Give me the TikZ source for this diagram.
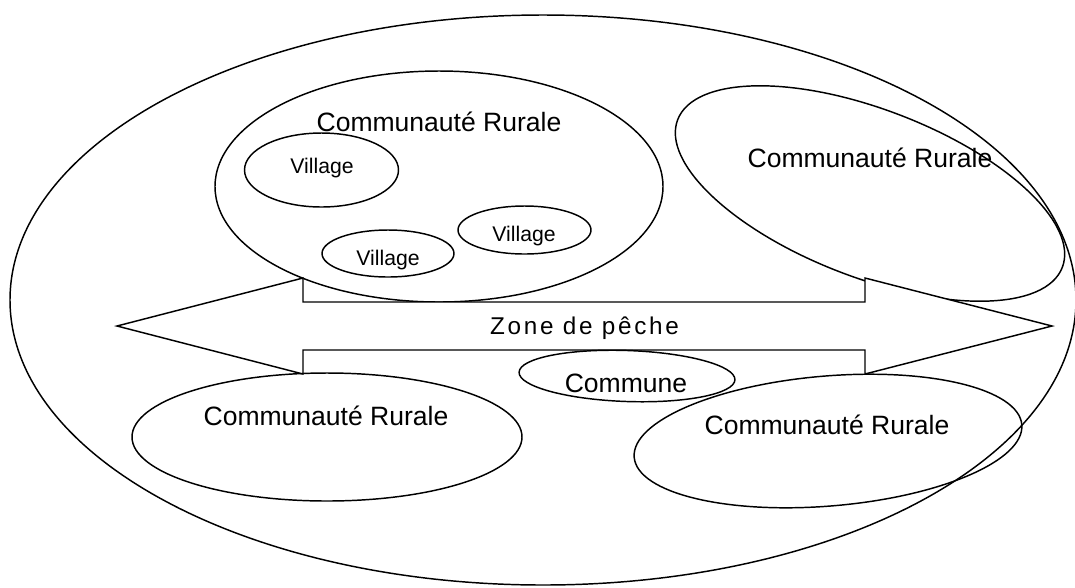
\documentclass[tikz,border=0pt]{standalone}
\usepackage{fontspec}
\setmainfont{Liberation Sans}
\usetikzlibrary{shapes}
\newlength\pxu
\setlength\pxu{0.75pt}

\tikzset{
	zone/.style={draw, ellipse, line width=1.1pt, inner sep=0pt},
	crtext/.style={anchor=base, inner sep=0pt, font=\fontsize{19.9}{22}\selectfont},
	vtext/.style={anchor=base, inner sep=0pt, font=\fontsize{15.9}{18}\selectfont},
}

\begin{document}
\begin{tikzpicture}[x=\pxu,y=-\pxu]
	\useasboundingbox (0,0) rectangle (1075,587);

	% Region
	\node[zone, minimum width=1066\pxu, minimum height=570\pxu] (region) at (543,300) {};

	% Communautes Rurales
	\node[zone, minimum width=448\pxu, minimum height=231\pxu] (crA) at (439,186.5) {};
	\node[crtext] (crAtext) at (439,131) {Communauté Rurale};
	\node[zone, minimum width=412\pxu, minimum height=168\pxu, rotate=-21] (crB) at (870,193.5) {};
	\node[crtext] (crBtext) at (870,167) {Communauté Rurale};
	\node[zone, minimum width=390\pxu, minimum height=128\pxu] (crC) at (327,437) {};
	\node[crtext] (crCtext) at (326,425) {Communauté Rurale};
	\node[zone, minimum width=389\pxu, minimum height=130\pxu, rotate=4.8] (crD) at (828,441) {};
	\node[crtext] (crDtext) at (827,434.5) {Communauté Rurale};

	% Villages
	\node[zone, minimum width=154\pxu, minimum height=74\pxu] (villA) at (321.5,170) {};
	\node[vtext] at (322,173) {Village};
	\node[zone, minimum width=132\pxu, minimum height=47\pxu] (villB) at (388,253.5) {};
	\node[vtext] at (388,265) {Village};
	\node[zone, minimum width=133\pxu, minimum height=48\pxu] (villC) at (524.5,230) {};
	\node[vtext] at (524,241.5) {Village};

	% Zone de peche
	\draw[line width=1.1pt, fill=white] (117,326) -- (303,278) -- (303,302) -- (865,302) -- (865,278)
		-- (1052,326) -- (865,374) -- (865,350) -- (303,350) -- (303,374) -- cycle;
	\node[anchor=base, inner sep=0pt, font=\fontsize{18.2}{21}\selectfont\addfontfeatures{LetterSpace=11}] (peche) at (584.5,334) {Zone de pêche};

	% Commune
	\node[zone, minimum width=216\pxu, minimum height=51\pxu, rotate=-2] (commune) at (627,376) {};
	\node[crtext] (communetext) at (626,392) {Commune};
\end{tikzpicture}
\end{document}
